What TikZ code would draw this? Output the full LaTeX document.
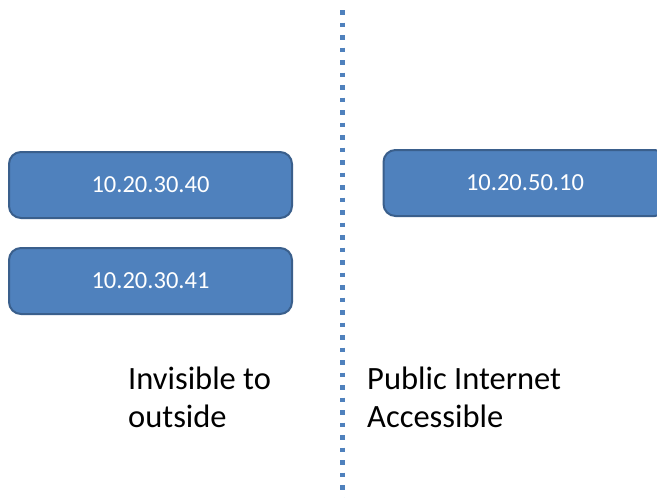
\documentclass[tikz,border=0pt]{standalone}
\usepackage{fontspec}
\setmainfont{Carlito}
\definecolor{boxfill}{HTML}{4F81BD}
\definecolor{boxline}{HTML}{3A5F8C}
\begin{document}
\begin{tikzpicture}[x=1pt,y=-1pt,
  ipbox/.style={rectangle, rounded corners=12pt, fill=boxfill, draw=boxline, line width=2pt,
    minimum width=283pt, minimum height=66pt, inner sep=0pt, text=white, font=\fontsize{24.5}{29}\selectfont},
  label/.style={anchor=base west, inner sep=0pt, align=left, font=\fontsize{32.5}{38}\selectfont},
  divider/.style={draw=boxfill, line width=4.6pt, dash pattern=on 4.6pt off 7.9pt}]
\useasboundingbox (0,0) rectangle (657,498);
\fill[white] (0,0) rectangle (657,498);
\coordinate (dtop) at (342.5,10);
\coordinate (dbot) at (342.5,505);
\draw[divider] (dtop) -- (dbot);
\node[ipbox] (box1) at (150.5,185) {10.20.30.40};
\node[ipbox] (box2) at (150.5,281) {10.20.30.41};
\node[ipbox] (box3) at (525,183) {10.20.50.10};
\node[label] (leftlab) at (128,427) {Invisible to\\outside};
\node[label] (rightlab) at (367,427) {Public Internet\\Accessible};
\end{tikzpicture}
\end{document}
